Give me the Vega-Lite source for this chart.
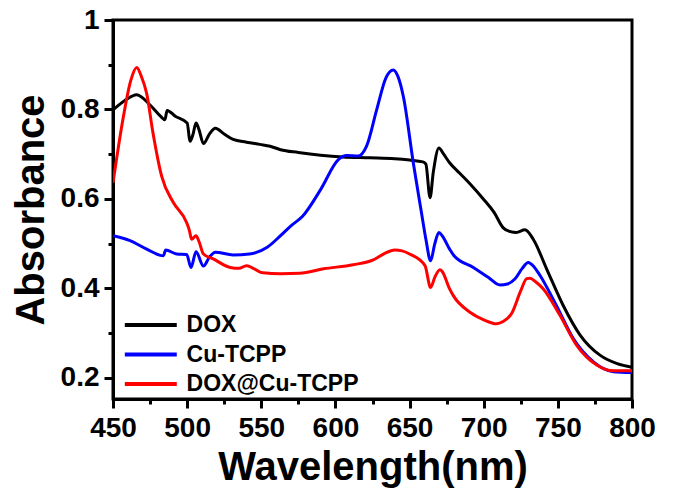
{
  "$schema": "https://vega.github.io/schema/vega-lite/v6.json",
  "width": 519,
  "height": 379,
  "autosize": {"type": "none"},
  "padding": {"left": 113, "top": 20, "right": 42, "bottom": 92},
  "background": "white",
  "config": {"view": {"stroke": "black", "strokeWidth": 3}, "font": "Liberation Sans"},
  "data": {"values": [
    {"s":"DOX","w":450,"a":0.799},{"s":"DOX","w":458,"a":0.82},{"s":"DOX","w":466,"a":0.833},{"s":"DOX","w":475,"a":0.81},{"s":"DOX","w":482,"a":0.785},{"s":"DOX","w":485,"a":0.777},{"s":"DOX","w":486.5,"a":0.798},{"s":"DOX","w":492,"a":0.785},{"s":"DOX","w":500,"a":0.77},{"s":"DOX","w":502,"a":0.729},{"s":"DOX","w":504,"a":0.745},{"s":"DOX","w":506,"a":0.77},{"s":"DOX","w":508,"a":0.755},{"s":"DOX","w":511,"a":0.724},{"s":"DOX","w":515,"a":0.745},{"s":"DOX","w":519,"a":0.758},{"s":"DOX","w":525,"a":0.745},{"s":"DOX","w":531,"a":0.733},{"s":"DOX","w":540,"a":0.727},{"s":"DOX","w":549,"a":0.722},{"s":"DOX","w":556,"a":0.718},{"s":"DOX","w":563,"a":0.71},{"s":"DOX","w":575,"a":0.704},{"s":"DOX","w":590,"a":0.698},{"s":"DOX","w":605,"a":0.694},{"s":"DOX","w":623,"a":0.692},{"s":"DOX","w":640,"a":0.69},{"s":"DOX","w":650,"a":0.687},{"s":"DOX","w":659,"a":0.683},{"s":"DOX","w":661,"a":0.678},{"s":"DOX","w":663.8,"a":0.603},{"s":"DOX","w":666,"a":0.66},{"s":"DOX","w":669.8,"a":0.714},{"s":"DOX","w":673,"a":0.7},{"s":"DOX","w":677,"a":0.681},{"s":"DOX","w":684,"a":0.657},{"s":"DOX","w":691,"a":0.633},{"s":"DOX","w":700,"a":0.599},{"s":"DOX","w":707,"a":0.57},{"s":"DOX","w":713,"a":0.536},{"s":"DOX","w":718,"a":0.527},{"s":"DOX","w":722,"a":0.525},{"s":"DOX","w":727.8,"a":0.531},{"s":"DOX","w":733.4,"a":0.51},{"s":"DOX","w":742.4,"a":0.444},{"s":"DOX","w":753.6,"a":0.362},{"s":"DOX","w":765,"a":0.296},{"s":"DOX","w":778.4,"a":0.251},{"s":"DOX","w":790,"a":0.232},{"s":"DOX","w":800,"a":0.224},
    {"s":"Cu-TCPP","w":450,"a":0.518},{"s":"Cu-TCPP","w":461.5,"a":0.507},{"s":"Cu-TCPP","w":472.7,"a":0.488},{"s":"Cu-TCPP","w":484,"a":0.473},{"s":"Cu-TCPP","w":485.5,"a":0.486},{"s":"Cu-TCPP","w":493,"a":0.477},{"s":"Cu-TCPP","w":499.7,"a":0.476},{"s":"Cu-TCPP","w":502.6,"a":0.447},{"s":"Cu-TCPP","w":506,"a":0.482},{"s":"Cu-TCPP","w":511,"a":0.45},{"s":"Cu-TCPP","w":515,"a":0.47},{"s":"Cu-TCPP","w":519,"a":0.481},{"s":"Cu-TCPP","w":531,"a":0.475},{"s":"Cu-TCPP","w":542,"a":0.477},{"s":"Cu-TCPP","w":554,"a":0.492},{"s":"Cu-TCPP","w":563,"a":0.518},{"s":"Cu-TCPP","w":570,"a":0.54},{"s":"Cu-TCPP","w":578,"a":0.562},{"s":"Cu-TCPP","w":590,"a":0.621},{"s":"Cu-TCPP","w":602,"a":0.688},{"s":"Cu-TCPP","w":607.6,"a":0.697},{"s":"Cu-TCPP","w":615.4,"a":0.696},{"s":"Cu-TCPP","w":621,"a":0.718},{"s":"Cu-TCPP","w":627.8,"a":0.799},{"s":"Cu-TCPP","w":634,"a":0.87},{"s":"Cu-TCPP","w":639,"a":0.888},{"s":"Cu-TCPP","w":642,"a":0.875},{"s":"Cu-TCPP","w":645.8,"a":0.829},{"s":"Cu-TCPP","w":652.5,"a":0.681},{"s":"Cu-TCPP","w":658,"a":0.57},{"s":"Cu-TCPP","w":661,"a":0.51},{"s":"Cu-TCPP","w":664.2,"a":0.462},{"s":"Cu-TCPP","w":667,"a":0.5},{"s":"Cu-TCPP","w":669.8,"a":0.525},{"s":"Cu-TCPP","w":672,"a":0.518},{"s":"Cu-TCPP","w":677,"a":0.488},{"s":"Cu-TCPP","w":680,"a":0.473},{"s":"Cu-TCPP","w":693,"a":0.447},{"s":"Cu-TCPP","w":703,"a":0.425},{"s":"Cu-TCPP","w":711,"a":0.408},{"s":"Cu-TCPP","w":716,"a":0.41},{"s":"Cu-TCPP","w":721,"a":0.421},{"s":"Cu-TCPP","w":726,"a":0.445},{"s":"Cu-TCPP","w":730,"a":0.458},{"s":"Cu-TCPP","w":734,"a":0.448},{"s":"Cu-TCPP","w":738,"a":0.429},{"s":"Cu-TCPP","w":749,"a":0.362},{"s":"Cu-TCPP","w":760.4,"a":0.288},{"s":"Cu-TCPP","w":774,"a":0.236},{"s":"Cu-TCPP","w":787.4,"a":0.214},{"s":"Cu-TCPP","w":800,"a":0.212},
    {"s":"DOX@Cu-TCPP","w":450,"a":0.636},{"s":"DOX@Cu-TCPP","w":457,"a":0.784},{"s":"DOX@Cu-TCPP","w":462,"a":0.865},{"s":"DOX@Cu-TCPP","w":466,"a":0.894},{"s":"DOX@Cu-TCPP","w":469,"a":0.875},{"s":"DOX@Cu-TCPP","w":472.7,"a":0.836},{"s":"DOX@Cu-TCPP","w":477,"a":0.747},{"s":"DOX@Cu-TCPP","w":482.8,"a":0.651},{"s":"DOX@Cu-TCPP","w":490.7,"a":0.592},{"s":"DOX@Cu-TCPP","w":499.7,"a":0.547},{"s":"DOX@Cu-TCPP","w":501.5,"a":0.53},{"s":"DOX@Cu-TCPP","w":503,"a":0.51},{"s":"DOX@Cu-TCPP","w":506,"a":0.518},{"s":"DOX@Cu-TCPP","w":508,"a":0.505},{"s":"DOX@Cu-TCPP","w":511,"a":0.477},{"s":"DOX@Cu-TCPP","w":517.6,"a":0.466},{"s":"DOX@Cu-TCPP","w":529,"a":0.447},{"s":"DOX@Cu-TCPP","w":535,"a":0.445},{"s":"DOX@Cu-TCPP","w":540,"a":0.451},{"s":"DOX@Cu-TCPP","w":551,"a":0.435},{"s":"DOX@Cu-TCPP","w":563,"a":0.433},{"s":"DOX@Cu-TCPP","w":576,"a":0.434},{"s":"DOX@Cu-TCPP","w":592,"a":0.444},{"s":"DOX@Cu-TCPP","w":612,"a":0.453},{"s":"DOX@Cu-TCPP","w":625.5,"a":0.464},{"s":"DOX@Cu-TCPP","w":633,"a":0.478},{"s":"DOX@Cu-TCPP","w":640,"a":0.486},{"s":"DOX@Cu-TCPP","w":645,"a":0.484},{"s":"DOX@Cu-TCPP","w":650,"a":0.477},{"s":"DOX@Cu-TCPP","w":660.4,"a":0.451},{"s":"DOX@Cu-TCPP","w":664.2,"a":0.402},{"s":"DOX@Cu-TCPP","w":667,"a":0.425},{"s":"DOX@Cu-TCPP","w":670.5,"a":0.442},{"s":"DOX@Cu-TCPP","w":672,"a":0.438},{"s":"DOX@Cu-TCPP","w":677,"a":0.399},{"s":"DOX@Cu-TCPP","w":679.5,"a":0.384},{"s":"DOX@Cu-TCPP","w":690.7,"a":0.347},{"s":"DOX@Cu-TCPP","w":700,"a":0.33},{"s":"DOX@Cu-TCPP","w":708.7,"a":0.321},{"s":"DOX@Cu-TCPP","w":713,"a":0.326},{"s":"DOX@Cu-TCPP","w":718.8,"a":0.344},{"s":"DOX@Cu-TCPP","w":725,"a":0.395},{"s":"DOX@Cu-TCPP","w":729,"a":0.422},{"s":"DOX@Cu-TCPP","w":731.2,"a":0.423},{"s":"DOX@Cu-TCPP","w":735,"a":0.415},{"s":"DOX@Cu-TCPP","w":740.2,"a":0.399},{"s":"DOX@Cu-TCPP","w":751.4,"a":0.34},{"s":"DOX@Cu-TCPP","w":762.7,"a":0.273},{"s":"DOX@Cu-TCPP","w":776.2,"a":0.229},{"s":"DOX@Cu-TCPP","w":787.4,"a":0.216},{"s":"DOX@Cu-TCPP","w":800,"a":0.216}
  ]},
  "mark": {"type": "line", "strokeWidth": 3, "interpolate": "monotone", "clip": true},
  "encoding": {
    "x": {
      "field": "w", "type": "quantitative",
      "scale": {"domain": [450, 800], "nice": false, "zero": false},
      "axis": {
        "values": [450,475,500,525,550,575,600,625,650,675,700,725,750,775,800],
        "labelExpr": "datum.value % 50 == 0 ? datum.label : ''",
        "title": "Wavelength(nm)", "grid": false,
        "domainColor": "black", "domainWidth": 3, "tickColor": "black", "tickWidth": 3,
        "tickSize": {"condition": {"test": "datum.value % 50 != 0", "value": 5}, "value": 9},
        "labelFont": "Liberation Sans", "labelFontWeight": "bold", "labelFontSize": 28, "labelColor": "black",
        "labelPadding": 6, "labelFlush": false, "labelOverlap": false,
        "titleFont": "Liberation Sans", "titleFontSize": 40, "titleFontWeight": "bold", "titleColor": "black", "titlePadding": 5
      }
    },
    "y": {
      "field": "a", "type": "quantitative",
      "scale": {"domain": [0.153, 1.0], "nice": false, "zero": false},
      "axis": {
        "values": [0.2,0.3,0.4,0.5,0.6,0.7,0.8,0.9,1.0],
        "labelExpr": "round(datum.value*10) % 2 == 1 ? '' : (datum.value == 1 ? '1' : format(datum.value, '.1f'))",
        "title": "Absorbance", "grid": false,
        "domainColor": "black", "domainWidth": 3, "tickColor": "black", "tickWidth": 3,
        "tickSize": {"condition": {"test": "round(datum.value*10) % 2 == 1", "value": 5}, "value": 9},
        "labelFont": "Liberation Sans", "labelFontWeight": "bold", "labelFontSize": 28, "labelColor": "black",
        "labelPadding": 5, "labelFlush": false, "labelOverlap": false,
        "titleFont": "Liberation Sans", "titleFontSize": 40, "titleFontWeight": "bold", "titleColor": "black", "titlePadding": 9
      }
    },
    "color": {
      "field": "s", "type": "nominal",
      "scale": {"domain": ["DOX", "Cu-TCPP", "DOX@Cu-TCPP"], "range": ["#000000", "#0000ff", "#ff0000"]},
      "legend": {
        "orient": "none", "legendX": 26.3, "legendY": 293.5, "title": null,
        "symbolType": "M-3,0H3", "symbolSize": 300, "symbolStrokeWidth": 4,
        "labelFont": "Liberation Sans", "labelFontWeight": "bold", "labelFontSize": 23, "labelColor": "black",
        "labelOffset": 24.3, "labelLimit": 0, "rowPadding": 5.5, "padding": 0
      }
    }
  }
}
